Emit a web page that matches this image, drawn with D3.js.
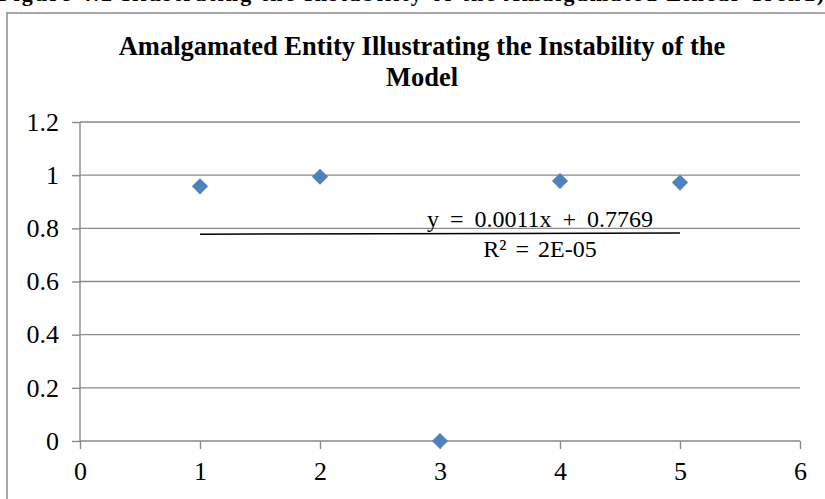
<!DOCTYPE html>
<html>
<head>
<meta charset="utf-8">
<script src="https://cdn.jsdelivr.net/npm/d3@7"></script>
<style>
  html, body { margin: 0; padding: 0; background: #fff; }
  svg { display: block; }
  svg text { font-family: "Liberation Serif", "Times New Roman", serif; fill: #000; }
</style>
</head>
<body>
<svg id="chart" width="825" height="499"></svg>
<script>
// Observations (period vs. index value)
const xValues = [1, 2, 3, 4, 5];
const yValues = [0.958, 0.994, 0, 0.978, 0.972];
const xTicks = [0, 1, 2, 3, 4, 5, 6];
const yTicks = [0, 0.2, 0.4, 0.6, 0.8, 1, 1.2];
const yTickLabels = ["0", "0.2", "0.4", "0.6", "0.8", "1", "1.2"];
// Linear trend reported for the series
const trendSlope = 0.0011;
const trendIntercept = 0.7769;
const trendRange = [1, 5];
const trendLabels = ["y = 0.0011x + 0.7769", "R² = 2E-05"];
const titleLines = ["Amalgamated Entity Illustrating the Instability of the", "Model"];
const caption = "Figure 4.2 Illustrating the Instability of the Amalgamated Linear Trend)";

const svg = d3.select("#chart");
const plot = { left: 80, right: 800, top: 122, bottom: 441 };

const x = d3.scaleLinear().domain([0, 6]).range([plot.left, plot.right]);
const y = d3.scaleLinear().domain([0, 1.2]).range([plot.bottom, plot.top]);

// Document caption above the chart frame
svg.append("text")
  .attr("x", -2).attr("y", 1)
  .style("font-size", "22px").style("font-weight", "bold")
  .attr("textLength", 826).attr("lengthAdjust", "spacing")
  .text(caption);

// Chart frame
svg.append("rect")
  .attr("x", 7).attr("y", 13)
  .attr("width", 840).attr("height", 520)
  .attr("fill", "none").attr("stroke", "#8c8c8c").attr("stroke-width", 1.5);

// Title
svg.append("g").selectAll("text").data(titleLines).join("text")
  .attr("x", 422).attr("y", (d, i) => 55 + i * 31)
  .attr("text-anchor", "middle")
  .style("font-size", "26.5px").style("font-weight", "bold")
  .text(d => d);

const gridColor = "#8a8a8a";

// Horizontal gridlines
svg.append("g").selectAll("line").data(yTicks.filter(d => d > 0)).join("line")
  .attr("x1", plot.left).attr("x2", plot.right)
  .attr("y1", d => y(d)).attr("y2", d => y(d))
  .attr("stroke", gridColor).attr("stroke-width", 1.4);

// Y axis
const yAxis = d3.axisLeft(y).tickValues(yTicks)
  .tickFormat((d, i) => yTickLabels[i]).tickSize(8).tickPadding(13);
const gy = svg.append("g").attr("transform", `translate(${plot.left},0)`).call(yAxis);
gy.select(".domain").attr("stroke", gridColor).attr("stroke-width", 1.4)
  .attr("d", `M0,${plot.top}V${plot.bottom}`);
gy.selectAll(".tick line").attr("stroke", gridColor).attr("stroke-width", 1.4);
gy.selectAll(".tick text").style("font-size", "26px");

// X axis
const xAxis = d3.axisBottom(x).tickValues(xTicks).tickFormat(d3.format("d"))
  .tickSize(8).tickPadding(13);
const gx = svg.append("g").attr("transform", `translate(0,${plot.bottom})`).call(xAxis);
gx.select(".domain").attr("stroke", gridColor).attr("stroke-width", 1.4)
  .attr("d", `M${plot.left},0H${plot.right}`);
gx.selectAll(".tick line").attr("stroke", gridColor).attr("stroke-width", 1.4);
gx.selectAll(".tick text").style("font-size", "26px");

// Trend line
const trend = trendRange.map(v => [v, trendSlope * v + trendIntercept]);
svg.append("line")
  .attr("x1", x(trend[0][0])).attr("y1", y(trend[0][1]))
  .attr("x2", x(trend[1][0])).attr("y2", y(trend[1][1]))
  .attr("stroke", "#000").attr("stroke-width", 1.6);

// Data markers (diamonds)
const diamond = d3.symbol().type(d3.symbolSquare).size(130);
svg.append("g").selectAll("path").data(xValues.map((v, i) => [v, yValues[i]])).join("path")
  .attr("d", diamond)
  .attr("transform", d => `translate(${x(d[0])},${y(d[1])}) rotate(45)`)
  .attr("fill", "#4f81bd");

// Trend equation labels
svg.append("g").selectAll("text").data(trendLabels).join("text")
  .attr("x", 540).attr("y", (d, i) => 227 + i * 30)
  .attr("text-anchor", "middle")
  .style("font-size", "24px")
  .style("word-spacing", (d, i) => i === 0 ? "5px" : "3px")
  .text(d => d);
</script>
</body>
</html>
